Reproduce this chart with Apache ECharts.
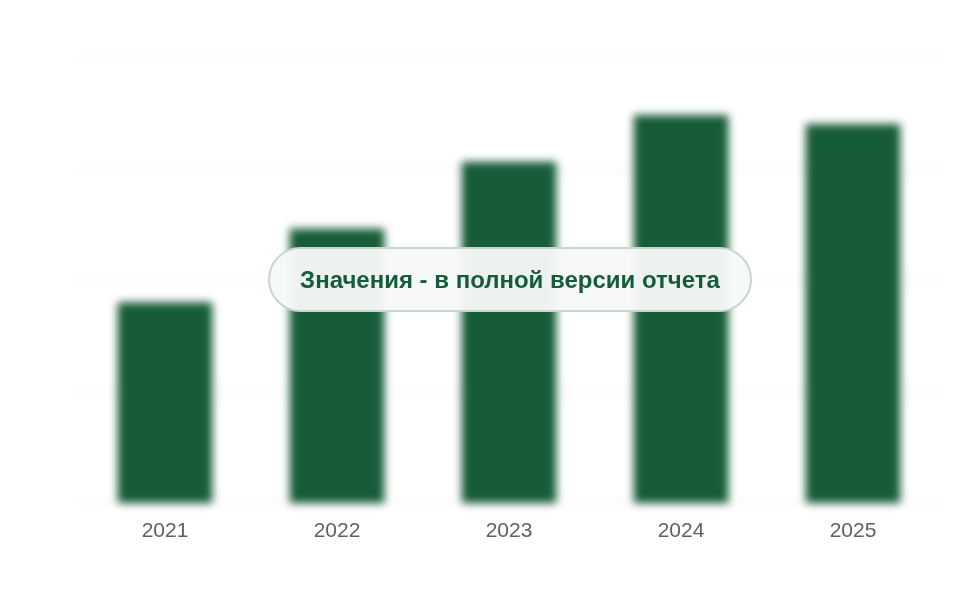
<!DOCTYPE html>
<html lang="ru">
<head>
    <meta charset="UTF-8">
    <title>Диаграмма</title>
    <script src="https://cdn.jsdelivr.net/npm/echarts@6/dist/echarts.min.js"></script>
    <style>
        html, body { margin: 0; padding: 0; background: #fff; }
        .wrap { position: relative; width: 960px; height: 600px; }
        #bars, #axis { position: absolute; left: 0; top: 0; width: 960px; height: 600px; }
        #bars { filter: blur(4.5px); }
        .badge {
            position: absolute;
            left: 268px; top: 247px;
            width: 484px; height: 65px;
            box-sizing: border-box;
            border: 2px solid #c9d6ce;
            border-radius: 33px;
            background: rgba(247, 249, 248, 0.96);
            color: #165c38;
            font: bold 24px "Liberation Sans", Arial, sans-serif;
            display: flex; align-items: center; justify-content: center;
        }
    </style>
</head>
<body>
    <div class="wrap">
        <div id="bars"></div>
        <div id="axis"></div>
        <div class="badge">Значения - в полной версии отчета</div>
    </div>

    <script>
        // данные
        const years = ['2021', '2022', '2023', '2024', '2025'];
        const values = [45, 61.5, 76.5, 87, 85];

        const grid = { left: 79, right: 21, top: 57, bottom: 97 };

        // размытые столбцы и сетка
        const bars = echarts.init(document.getElementById('bars'));
        bars.setOption({
            animation: false,
            grid: grid,
            xAxis: {
                type: 'category',
                data: years,
                axisLine: { show: false },
                axisTick: { show: false },
                axisLabel: { show: false }
            },
            yAxis: {
                type: 'value',
                min: 0, max: 100, interval: 25,
                axisLabel: { show: false },
                splitLine: { lineStyle: { color: '#eeeeee', width: 2 } }
            },
            series: [{
                type: 'bar',
                data: values,
                barWidth: '55%',
                itemStyle: { color: '#165c38' }
            }]
        });

        // подписи оси без размытия
        const axis = echarts.init(document.getElementById('axis'));
        axis.setOption({
            animation: false,
            grid: grid,
            xAxis: {
                type: 'category',
                data: years,
                axisLine: { show: false },
                axisTick: { show: false },
                axisLabel: {
                    margin: 18,
                    fontSize: 21,
                    color: '#616161',
                    fontFamily: 'Liberation Sans, Arial, sans-serif'
                }
            },
            yAxis: { type: 'value', min: 0, max: 100, show: false },
            series: []
        });
    </script>
</body>
</html>
